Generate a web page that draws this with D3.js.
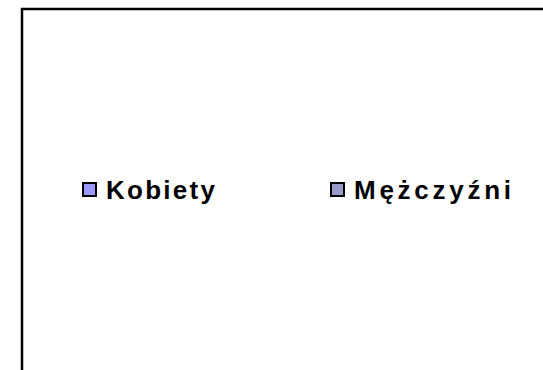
<!DOCTYPE html>
<html>
<head>
<meta charset="utf-8">
<script src="https://cdn.jsdelivr.net/npm/d3@7"></script>
<style>
  body { margin: 0; background: #fff; }
  svg { display: block; }
</style>
</head>
<body>
<svg id="chart" width="543" height="370"></svg>
<script>
// legend entries (the chart itself has no plotted values)
const categories = ["Kobiety", "Mężczyźni"];
const colors = ["#9999FF", "#9999CC"];

const w = 543, h = 370;
const svg = d3.select("#chart");

// chart frame, runs off the right and bottom edges
svg.append("rect")
    .attr("x", 22)
    .attr("y", 9)
    .attr("width", w)
    .attr("height", h)
    .attr("fill", "#fff")
    .attr("stroke", "#000")
    .attr("stroke-width", 2.5);

// legend positions
const xScale = d3.scalePoint()
    .domain(categories)
    .range([82, 330]);

const color = d3.scaleOrdinal()
    .domain(categories)
    .range(colors);

const textWidths = { "Kobiety": 109, "Mężczyźni": 157 };

const items = svg.selectAll("g.legend")
    .data(categories)
    .join("g")
    .attr("class", "legend")
    .attr("transform", d => `translate(${xScale(d)},182)`);

items.append("rect")
    .attr("x", 1)
    .attr("y", 1)
    .attr("width", 13)
    .attr("height", 13)
    .attr("fill", d => color(d))
    .attr("stroke", "#000")
    .attr("stroke-width", 2);

items.append("text")
    .attr("x", 24)
    .attr("y", 16.5)
    .attr("font-family", "Liberation Sans, Arial, sans-serif")
    .attr("font-weight", "bold")
    .attr("font-size", "26px")
    .attr("fill", "#000")
    .attr("textLength", d => textWidths[d])
    .attr("lengthAdjust", "spacing")
    .text(d => d);
</script>
</body>
</html>
